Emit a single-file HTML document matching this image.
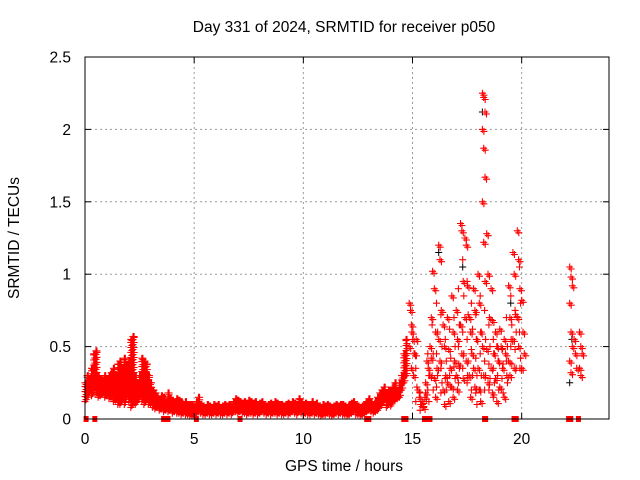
<!DOCTYPE html>
<html><head><meta charset="utf-8"><style>
body{margin:0;background:#fff}
svg{display:block;font-family:"Liberation Sans",sans-serif}
</style></head><body>
<svg id="chart" width="640" height="480">
<rect width="640" height="480" fill="#fff"/>
<text x="344" y="32" font-size="15.5" text-anchor="middle">Day 331 of 2024, SRMTID for receiver p050</text>
<text x="344" y="471" font-size="15.5" text-anchor="middle">GPS time / hours</text>
<text x="0" y="0" font-size="15.5" text-anchor="middle" transform="translate(19,238) rotate(-90)">SRMTID / TECUs</text>
<g id="grid"></g><g id="marks"></g>
<rect x="85" y="57" width="524" height="362" fill="none" stroke="#000"/>
<g id="ticks"></g>
</svg>
<script>
const xTicks=[0,5,10,15,20];
const yTicks=[0,0.5,1,1.5,2,2.5];
const yTickLabels=["0","0.5","1","1.5","2","2.5"];
const denseStart=0, denseStep=0.1;
const denseHi=[0.25,0.3,0.28,0.35,0.45,0.47,0.3,0.28,0.27,0.3,0.28,0.3,0.32,0.35,0.3,0.38,0.4,0.35,0.42,0.38,0.4,0.55,0.57,0.3,0.25,0.3,0.42,0.4,0.38,0.3,0.25,
0.2,0.18,0.15,0.14,0.16,0.15,0.12,0.18,0.14,0.13,0.12,0.14,0.13,0.12,0.1,0.12,0.1,0.1,0.1,
0.08,0.12,0.15,0.1,0.09,0.08,0.1,0.09,0.08,0.1,0.09,0.1,0.08,0.09,0.1,0.09,0.1,0.09,0.12,0.14,0.13,0.12,0.11,0.12,0.1,0.13,0.12,0.11,0.12,0.1,0.11,0.12,0.1,0.09,0.1,0.11,0.1,0.12,0.11,0.1,0.1,0.09,0.1,0.11,0.1,0.12,0.11,0.1,0.14,0.12,0.1,0.11,0.1,0.1,0.12,0.1,0.11,0.09,0.08,0.1,0.09,0.1,0.09,0.08,0.09,0.1,0.09,0.1,0.1,0.09,0.08,0.1,0.11,0.12,0.1,0.09,0.08,0.09,0.1,0.12,0.14,0.12,0.1,
0.12,0.15,0.18,0.2,0.22,0.18,0.2,0.2,0.22,0.25,0.2,0.25,0.3,0.45,0.55];
const denseLo=[0.12,0.15,0.18,0.16,0.2,0.17,0.15,0.16,0.17,0.15,0.16,0.14,0.15,0.12,0.13,0.1,0.1,0.12,0.1,0.15,0.12,0.08,0.1,0.1,0.12,0.15,0.12,0.1,0.12,0.1,0.1,
0.08,0.07,0.08,0.06,0.07,0.05,0.06,0.05,0.06,0.04,0.05,0.04,0.04,0.03,0.04,0.03,0.03,0.02,0.02,
0.02,0.04,0.05,0.04,0.03,0.03,0.04,0.03,0.03,0.04,0.03,0.04,0.03,0.03,0.04,0.03,0.04,0.03,0.05,0.05,0.04,0.05,0.04,0.04,0.03,0.04,0.04,0.03,0.04,0.03,0.04,0.05,0.04,0.03,0.04,0.03,0.04,0.04,0.03,0.04,0.03,0.03,0.04,0.03,0.04,0.05,0.04,0.03,0.05,0.04,0.03,0.04,0.03,0.03,0.04,0.03,0.04,0.03,0.02,0.03,0.03,0.04,0.03,0.02,0.03,0.04,0.03,0.04,0.03,0.03,0.02,0.03,0.04,0.05,0.03,0.03,0.02,0.03,0.04,0.05,0.06,0.05,0.04,
0.05,0.06,0.08,0.1,0.12,0.08,0.1,0.09,0.12,0.13,0.14,0.15,0.2,0.25,0.3];
const clusterT=[14.85,14.95,15.05,15.25,15.45,15.6,15.8,16.0,16.2,16.4,16.6,16.8,17.0,17.2,17.4,17.6,17.8,18.0,18.2,18.4,18.6,18.8,19.0,19.2,19.4,19.6,19.8,20.0,22.2,22.4,22.65];
const clusterV=[[0.8,0.75,0.6,0.5],[0.65,0.55,0.45,0.35],[0.3,0.45,0.55],[0.2,0.15,0.1],[0.12,0.08,0.15,0.1],[0.25,0.4,0.35,0.18],[0.5,0.7,1.02,0.3,0.42],[0.9,0.6,0.35,0.28,0.15],[1.2,1.1,0.75,0.55,0.4],[0.65,0.5,0.3,0.2,0.1],[0.7,0.48,0.35,0.25,0.12],[0.85,0.6,0.4,0.22,0.15],[0.75,0.55,0.38,0.3,0.2],[1.35,1.3,0.95,0.65,0.45,0.28],[1.25,1.2,0.92,0.7,0.4,0.3],[0.7,0.6,0.45,0.3,0.15],[0.9,0.75,0.55,0.35,0.22],[1.0,0.8,0.6,0.35,0.2,0.12],[2.25,2.22,2.12,2.0,1.87,1.67,1.5,1.22,0.95,0.5,0.3],[1.28,1.0,0.7,0.48,0.25],[0.9,0.68,0.45,0.35,0.18],[0.6,0.5,0.4,0.28,0.12],[0.62,0.5,0.35,0.22],[0.55,0.45,0.3,0.15],[0.92,0.7,0.55,0.4,0.3],[1.15,1.0,0.72,0.55,0.35],[1.3,1.1,0.9,0.7,0.5,0.35],[0.82,0.6,0.45,0.35],[1.05,0.98,0.92,0.8,0.6,0.5,0.4,0.32],[0.55,0.45,0.35],[0.6,0.5,0.45,0.35,0.3]];
const cluster2T=[15.15,15.35,15.7,15.9,16.1,16.3,16.5,16.7,16.9,17.1,17.3,17.5,17.7,17.9,18.1,18.3,18.5,18.7,18.9,19.1,19.3,19.5,19.7,19.9];
const cluster2V=[[0.35,0.22,0.12],[0.18,0.1,0.06],[0.45,0.3,0.2,0.12],[0.65,0.45,0.3,0.2],[0.8,0.6,0.45,0.3,0.22],[0.72,0.5,0.35,0.25,0.18],[0.55,0.4,0.28,0.2],[0.62,0.42,0.3,0.22],[0.7,0.5,0.36,0.28],[0.9,0.65,0.5,0.35,0.25],[1.1,0.85,0.6,0.45,0.35],[0.95,0.72,0.55,0.4,0.25],[0.8,0.62,0.48,0.3,0.2],[0.72,0.55,0.42,0.3,0.18,0.1],[0.85,0.6,0.45,0.3,0.2],[0.75,0.55,0.4,0.3,0.2],[0.65,0.5,0.38,0.28,0.2],[0.55,0.45,0.35,0.25,0.15],[0.5,0.4,0.3,0.2],[0.48,0.38,0.28,0.18],[0.7,0.5,0.4,0.25],[0.85,0.65,0.5,0.38],[0.75,0.6,0.48,0.35],[1.05,0.8,0.6,0.42]];
const blackT=[18.2,16.2,22.2,22.3,19.5,17.3];
const blackV=[2.12,1.15,0.25,0.55,0.8,1.05];
const zeroT=[0.05,0.45,3.6,3.8,5.1,7.1,12.9,13.0,14.6,14.7,15.55,15.65,15.8,18.3,18.35,19.65,19.75,22.15,22.25,22.6];
const NS='http://www.w3.org/2000/svg';
const X0=85,X1=609,Y0=419,Y1=57,XMAX=24,YMAX=2.5;
const sx=t=>X0+t/XMAX*(X1-X0), sy=v=>Y0-v/YMAX*(Y0-Y1);
const grid=document.getElementById('grid'),ticks=document.getElementById('ticks'),marks=document.getElementById('marks');
function mk(tag,a,p){const e=document.createElementNS(NS,tag);for(const k in a)e.setAttribute(k,a[k]);p.appendChild(e);return e;}
xTicks.forEach(t=>{const x=sx(t);
 if(t>0){const g=mk('line',{x1:x,x2:x,y1:Y1,y2:Y0,stroke:'#999','stroke-dasharray':'2,3'},grid);
 
 }
 mk('line',{x1:x,x2:x,y1:Y0,y2:Y0-6,stroke:'#000'},ticks);mk('line',{x1:x,x2:x,y1:Y1,y2:Y1+6,stroke:'#000'},ticks);
 const l=mk('text',{x:x,y:Y0+25,'font-size':15.5,'text-anchor':'middle'},ticks);l.textContent=t;
 
 });
yTicks.forEach((v,i)=>{const y=sy(v);
 if(v>0&&v<YMAX){const g=mk('line',{x1:X0,x2:X1,y1:y,y2:y,stroke:'#999','stroke-dasharray':'2,3'},grid);
 
 }
 mk('line',{x1:X0,x2:X0+6,y1:y,y2:y,stroke:'#000'},ticks);mk('line',{x1:X1,x2:X1-6,y1:y,y2:y,stroke:'#000'},ticks);
 const l=mk('text',{x:71,y:y+5.5,'font-size':15.5,'text-anchor':'end'},ticks);l.textContent=yTickLabels[i];
 
 });
let d='';
function plusPx(x,y){d+=`M${(x-3.5).toFixed(1)},${y.toFixed(1)}h7M${x.toFixed(1)},${(y-3.5).toFixed(1)}v7`;}
let db='';
blackT.forEach((t,i)=>{const x=sx(t),y=sy(blackV[i]);db+=`M${x-3.5},${y}h7M${x},${y-3.5}v7`;});
const pb=mk('path',{d:db,stroke:'#000','stroke-width':1,fill:'none'},marks);


denseHi.forEach((hi,i)=>{const lo=denseLo[i];const t=denseStart+i*denseStep;
 const yh=sy(hi),yl=sy(lo);
 [0,0.05].forEach((o,j)=>{const x=sx(t+o);
  for(let y=yl-(j%2)*2;y>=yh;y-=5)plusPx(x,y);
  plusPx(x,yh);});});
clusterT.forEach((t,i)=>clusterV[i].forEach((v,k)=>{plusPx(sx(t+(k%3)*0.06),sy(v));plusPx(sx(t+(k%3)*0.06)+1.5,sy(v)+2);}));
cluster2T.forEach((t,i)=>cluster2V[i].forEach((v,k)=>{plusPx(sx(t+(k%2)*0.05),sy(v));}));
const pr=mk('path',{d:d,stroke:'#f00','stroke-width':1.1,fill:'none'},marks);


zeroT.forEach(t=>{const r=mk('rect',{x:sx(t)-2.5,y:Y0-3,width:5,height:6,fill:'#f00'},marks);
 
 });
</script>
</body></html>
